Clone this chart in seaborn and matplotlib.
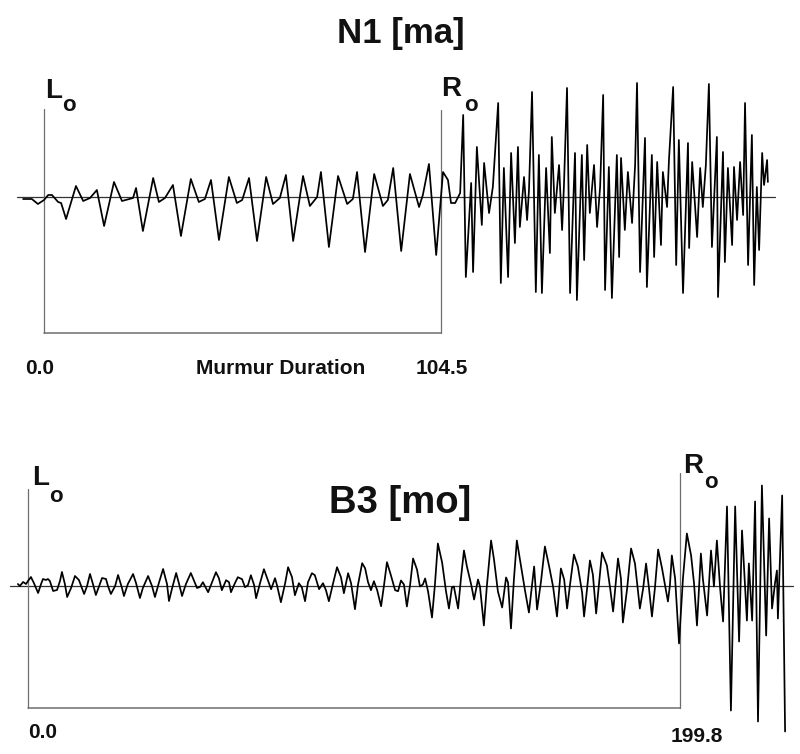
import matplotlib
matplotlib.use("Agg")
import matplotlib.pyplot as plt
import numpy as np
import pandas as pd
import seaborn as sns

# ---------------- data (time in ms, amplitude in arbitrary units) ----------------
N1_DURATION = 104.5
B3_DURATION = 199.8

n1_time = [-5.5, -3.2, -1.6, 0.0, 1.1, 2.1, 3.7, 4.5, 5.8, 8.4, 10.3, 12.1, 13.9, 15.8, 18.4, 20.5,
           23.4, 24.2, 26.0, 28.7, 30.2, 31.8, 33.9, 36.0, 38.6, 40.7, 42.3, 43.9, 46.0, 48.6, 50.7,
           52.1, 53.9, 56.0, 58.4, 60.2, 62.0, 63.6, 65.5, 68.1, 69.9, 71.8, 72.8, 74.9, 77.3, 79.7,
           81.2, 82.3, 84.4, 86.8, 89.1, 90.4, 91.8, 93.9, 96.2, 98.6, 99.6, 101.2, 103.1, 104.9,
           106.2, 107.0, 108.1, 109.4, 110.2, 110.9, 112.3, 112.8, 113.8, 115.1, 115.7, 117.0, 118.0,
           119.4, 120.1, 120.9, 122.0, 122.8, 123.8, 124.6, 125.1, 126.2, 127.0, 127.5, 128.3, 129.3,
           130.1, 130.9, 132.0, 133.0, 133.5, 134.3, 135.4, 136.2, 136.7, 137.5, 138.3, 139.6, 140.1,
           141.4, 142.0, 142.8, 143.5, 144.6, 145.4, 146.2, 147.0, 147.5, 148.5, 149.3, 150.6, 151.2,
           151.7, 152.7, 153.5, 154.6, 155.4, 155.9, 156.7, 158.0, 158.5, 159.8, 160.4, 161.2, 162.2,
           162.7, 163.8, 164.3, 165.4, 166.2, 166.9, 168.0, 169.3, 169.6, 170.4, 171.7, 172.5, 173.2,
           174.0, 174.8, 175.6, 176.9, 177.2, 178.5, 179.0, 179.8, 180.9, 181.4, 182.2, 183.0, 183.8,
           184.3, 185.1, 186.1, 186.7, 187.4, 188.0, 188.8, 189.3, 190.1, 190.3]
n1_amp = [-2, -2, -7, -3, 2, 2, -5, -6, -22, 11, -4, -1, 7, -29, 15, -4,
          -1, 9, -34, 19, -5, -1, 12, -39, 18, -5, -2, 17, -43, 20, -6,
          -3, 19, -44, 20, -7, -1, 22, -44, 21, -9, 0, 25, -50, 21, -7,
          -2, 25, -55, 23, -9, -3, 29, -54, 23, -10, 2, 33, -58, 25,
          17, -6, -6, 4, 82, -80, 14, -75, 50, -28, 34, -16, 10,
          94, -86, 29, -80, 44, -46, 50, -30, 20, -23, 7, 105, -95,
          42, -96, 29, -56, 60, -16, 32, -33, 12, 109, -96, 44, -103,
          42, -63, 52, -16, 32, -30, 10, 102, -93, 30, -101, 42, -60,
          39, -33, 25, -26, 32, 114, -75, 59, -90, 42, -60, 35, -48,
          25, -10, 37, 110, -68, 57, -96, 54, -51, 35, -40, 29, -10,
          32, 113, -50, 60, -100, 45, -65, 29, -48, 30, -23, 35, -18,
          94, -68, 62, -88, 10, -53, 44, 12, 37, 15]

b3_time = [-3.1, -2.5, -1.5, -0.6, 0.0, 0.9, 1.8, 3.1, 4.0, 4.6, 5.5, 6.1, 6.7, 7.7, 8.9, 9.8,
           10.4, 11.3, 12.0, 13.2, 14.4, 15.6, 16.5, 17.2, 18.1, 19.0, 19.9, 20.8, 21.8, 22.7, 23.9,
           24.5, 25.4, 26.7, 27.6, 28.8, 29.4, 30.6, 32.2, 33.1, 34.3, 35.2, 36.8, 38.0, 38.9, 40.1,
           41.4, 42.6, 43.2, 44.1, 45.4, 46.3, 47.2, 48.4, 49.9, 50.9, 51.8, 52.7, 53.6, 55.2, 56.4,
           57.6, 58.5, 59.4, 60.7, 61.6, 62.2, 63.4, 64.3, 65.6, 66.5, 67.4, 68.3, 69.3, 69.9, 71.1,
           72.3, 73.5, 74.5, 75.7, 76.3, 77.5, 78.8, 79.7, 80.9, 81.8, 83.0, 83.9, 84.9, 85.8, 87.0,
           87.9, 89.2, 90.4, 91.3, 92.2, 93.5, 94.7, 95.9, 96.8, 98.1, 99.0, 100.2, 101.1, 102.4,
           103.3, 104.2, 105.1, 106.0, 107.0, 108.2, 109.1, 110.0, 111.2, 112.5, 113.4, 114.3, 115.2,
           116.1, 117.1, 118.0, 119.2, 120.1, 121.0, 121.7, 122.6, 123.8, 124.7, 125.6, 126.9, 128.1,
           129.0, 129.9, 130.5, 131.8, 132.7, 133.6, 134.5, 135.8, 136.7, 137.9, 138.5, 139.7, 140.6,
           141.9, 142.8, 144.0, 145.3, 146.5, 147.1, 148.0, 148.9, 149.8, 151.1, 152.3, 153.5, 155.1,
           156.0, 157.2, 158.4, 159.7, 160.9, 162.1, 163.3, 164.3, 165.2, 166.1, 167.3, 168.5, 169.8,
           170.4, 171.3, 172.2, 173.1, 174.1, 175.0, 175.9, 177.4, 178.4, 179.3, 179.9, 180.8, 181.7,
           182.3, 183.6, 184.8, 186.0, 187.5, 188.5, 189.4, 190.3, 191.2, 192.1, 193.1, 194.3, 196.1,
           196.7, 197.3, 198.3, 199.5, 200.7, 201.9, 203.2, 204.1, 205.0, 206.2, 206.8, 208.1, 209.3,
           210.2, 211.1, 212.1, 213.0, 214.2, 215.4, 216.7, 217.9, 218.8, 220.3, 220.9, 221.9, 222.8,
           223.7, 224.9, 226.2, 227.1, 228.0, 228.9, 229.5, 229.8, 231.1, 232.0]
b3_amp = [1.5, -0.5, 3.5, 1.5, 4.5, 8.5, 2.5, -7.5, 1.5, 6.5, 5.5, 6.5, 4.5, -5.5, -4.5, 4.5,
          13.5, 1.5, -11.5, -2.5, 9.5, 5.5, -2.5, -8.5, -0.5, 11.5, 1.5, -9.5, -0.5, 7.5, 6.5,
          -0.5, -8.5, -0.5, 10.5, -2.5, -10.5, 1.5, 11.5, 2.5, -12.5, -2.5, 9.5, -0.5, -11.5, 2.5,
          16.5, 1.5, -15.5, -3.5, 12.5, 1.5, -10.5, 1.5, 12.5, 4.5, -2.5, -1.5, 3.3, -6.7, 3.3,
          13.3, 7.3, -4.7, 5.3, 3.3, -6.7, 2.3, 8.3, 6.3, -1.7, 0.3, 10.3, 0.3, -12.7, 2.3,
          16.3, 5.3, -3.7, 7.3, 0.3, -16.7, 2.3, 18.3, 8.3, -9.7, 2.3, -1.7, -15.7, 3.3, 12.3,
          10.3, -3.7, 2.3, -4.7, -15.7, 2.3, 18.3, 8.3, -7.7, 12.3, 2.3, -23.7, 0.3, 22.3,
          17.3, 3.3, -4.7, 4.3, -4.7, -20.7, 0.3, 23.3, 10.3, -4.7, -5.7, 5, 1,
          -21, 1, 27, 16, -1, 1, 7, -6, -32, 1, 42, 23, -6,
          -23, -2, -1, -23, 8, 35, 19, 1, -14, 6, -1, -40, -1,
          45, 26, -6, -22, 8, 3, -43, 6, 45, 19, -5, -27, 19,
          -24, 4, 39, 19, -1, -31, 17, 6, -23, 1, 31, 19, -7,
          -31, -4, 25, 11, -28, 2, 33, 20, -3, -26, -5, 27, 7,
          -37, -3, 37, 22, -23, -3, 22, -3, -31, -3, 36, 17, -16,
          0, 30, 7, -58, 7, 52, 30, 2, -40, 32, 7, -30, 35,
          -1, 45, -3, -36, 79, -125, 79, -56, 55, -35, 22, -35, 84,
          -136, 100, -50, 67, -23, 2, 15, -33, 90, -146]

n1 = pd.DataFrame({"time": n1_time, "amp": n1_amp})
b3 = pd.DataFrame({"time": b3_time, "amp": b3_amp})

# ---------------- style ----------------
sns.set_theme(style="white")
plt.rcParams["font.family"] = ["Liberation Sans", "DejaVu Sans"]

W, H = 800, 754
fig = plt.figure(figsize=(W / 100, H / 100), dpi=100)
fig.patch.set_facecolor("white")


def fx(x):
    return x / W


def fy(y):
    return 1 - y / H


ax1 = fig.add_axes([0, fy(400), 1, 400 / H])
ax2 = fig.add_axes([0, 0, 1, fy(400)])
for ax in (ax1, ax2):
    ax.axis("off")

ax1.set_xlim(-11.57, 198.75)
ax1.set_ylim(-203, 197)
ax2.set_xlim(-8.58, 236.57)
ax2.set_ylim(-168.5, 185.5)

GRAY = "#6e6e6e"
WAVE_LW = 1.25

# ---- top panel: N1 ----
ax1.plot([-7.1, 192.2], [0, 0], color="#333333", lw=0.9, zorder=1)
ax1.plot([0, 0], [88, -136], color=GRAY, lw=0.9)
ax1.plot([N1_DURATION, N1_DURATION], [87, -136], color=GRAY, lw=0.9)
ax1.plot([0, N1_DURATION], [-136, -136], color=GRAY, lw=1.1)
sns.lineplot(data=n1, x="time", y="amp", ax=ax1, color="black", lw=WAVE_LW,
             sort=False, estimator=None, zorder=3)
for ln in ax1.lines:
    ln.set_solid_joinstyle("round")
ax1.axis("off")

# ---- bottom panel: B3 ----
ax2.plot([-5.5, 234.4], [0, 0], color="#333333", lw=0.9, zorder=1)
ax2.plot([0, 0], [96.5, -122.5], color=GRAY, lw=0.9)
ax2.plot([B3_DURATION, B3_DURATION], [112.5, -122.5], color=GRAY, lw=0.9)
ax2.plot([0, B3_DURATION], [-122.5, -122.5], color=GRAY, lw=1.1)
sns.lineplot(data=b3, x="time", y="amp", ax=ax2, color="black", lw=WAVE_LW,
             sort=False, estimator=None, zorder=3)
for ln in ax2.lines:
    ln.set_solid_joinstyle("round")
ax2.axis("off")

# ---------------- text ----------------
bold = dict(fontweight="bold", color="#111111")
fig.text(fx(401), fy(43), "N1 [ma]", ha="center", va="baseline", fontsize=25, **bold)
fig.text(fx(400), fy(513), "B3 [mo]", ha="center", va="baseline", fontsize=27.5, **bold)

# L_o / R_o markers
fig.text(fx(45), fy(98), "L", ha="left", va="baseline", fontsize=20, **bold)
fig.text(fx(62), fy(111), "o", ha="left", va="baseline", fontsize=16, **bold)
fig.text(fx(441), fy(96), "R", ha="left", va="baseline", fontsize=20, **bold)
fig.text(fx(464), fy(111), "o", ha="left", va="baseline", fontsize=16, **bold)
fig.text(fx(32), fy(485), "L", ha="left", va="baseline", fontsize=20, **bold)
fig.text(fx(49), fy(502), "o", ha="left", va="baseline", fontsize=16, **bold)
fig.text(fx(683), fy(473), "R", ha="left", va="baseline", fontsize=20, **bold)
fig.text(fx(704), fy(488), "o", ha="left", va="baseline", fontsize=16, **bold)

# duration labels
fig.text(fx(25), fy(374), f"{0:.1f}", ha="left", va="baseline", fontsize=15, **bold)
fig.text(fx(281), fy(374), "Murmur Duration", ha="center", va="baseline", fontsize=15, **bold)
fig.text(fx(442), fy(374), f"{N1_DURATION:.1f}", ha="center", va="baseline", fontsize=15, **bold)
fig.text(fx(28), fy(738), f"{0:.1f}", ha="left", va="baseline", fontsize=15, **bold)
fig.text(fx(697), fy(742), f"{B3_DURATION:.1f}", ha="center", va="baseline", fontsize=15, **bold)

fig.savefig("out.png", dpi=100, facecolor="white")
